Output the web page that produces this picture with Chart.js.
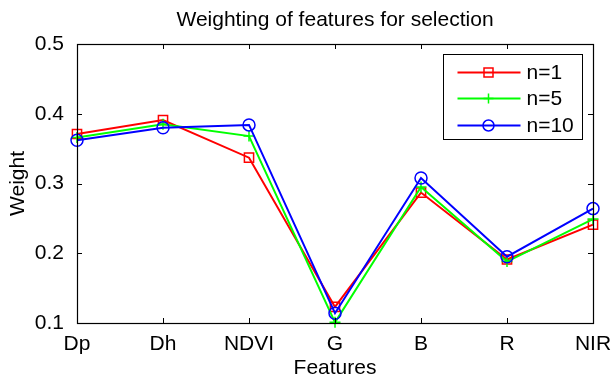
<!DOCTYPE html>
<html>
<head>
<meta charset="utf-8">
<script src="https://cdn.jsdelivr.net/npm/chart.js@4"></script>
<style>
  html, body { margin: 0; padding: 0; background: #fff; }
  #wrap { width: 612px; height: 378px; }
</style>
</head>
<body>
<div id="wrap"><canvas id="chart" width="612" height="378"></canvas></div>
<script>
let features = ['Dp', 'Dh', 'NDVI', 'G', 'B', 'R', 'NIR'];
let seriesNames = ['n=1', 'n=5', 'n=10'];
let weightN1 = [0.371, 0.391, 0.337, 0.123, 0.287, 0.191, 0.241];
let weightN5 = [0.366, 0.385, 0.368, 0.101, 0.295, 0.188, 0.249];
let weightN10 = [0.362, 0.380, 0.384, 0.114, 0.308, 0.195, 0.264];
let yTicks = [0.1, 0.2, 0.3, 0.4, 0.5];
let chartTitle = 'Weighting of features for selection';

let fontFamily = '"Liberation Sans", Arial, Helvetica, sans-serif';
let fontSize = 21;

// title over the axes, box round the plot, inward ticks, legend inside the axes
let matlabAxes = {
  id: 'matlabAxes',
  afterDraw(chart) {
    let ctx = chart.ctx;
    let area = chart.chartArea;
    let xs = chart.scales.x;
    let ys = chart.scales.y;
    let tick = 5;
    ctx.save();

    ctx.fillStyle = '#000';
    ctx.font = fontSize + 'px ' + fontFamily;
    ctx.textAlign = 'center';
    ctx.textBaseline = 'middle';
    ctx.fillText(chartTitle, (area.left + area.right) / 2, 20);

    ctx.strokeStyle = '#000';
    ctx.lineWidth = 1;
    ctx.beginPath();
    for (let i = 0; i < features.length; i++) {
      let px = Math.round(xs.getPixelForValue(i)) + 0.5;
      ctx.moveTo(px, area.bottom); ctx.lineTo(px, area.bottom - tick);
      ctx.moveTo(px, area.top); ctx.lineTo(px, area.top + tick);
    }
    yTicks.forEach(function(v) {
      let py = Math.round(ys.getPixelForValue(v)) + 0.5;
      ctx.moveTo(area.left, py); ctx.lineTo(area.left + tick, py);
      ctx.moveTo(area.right, py); ctx.lineTo(area.right - tick, py);
    });
    ctx.stroke();
    ctx.lineWidth = 1.2;
    ctx.strokeRect(Math.round(area.left) + 0.5, Math.round(area.top) + 0.5,
      Math.round(area.right - area.left), Math.round(area.bottom - area.top));

    // legend
    let bw = 139, bh = 85;
    let bx = Math.round(area.right - 11 - bw) + 0.5;
    let by = Math.round(area.top + 10) + 0.5;
    ctx.fillStyle = '#fff';
    ctx.fillRect(bx, by, bw, bh);
    ctx.lineWidth = 1;
    ctx.strokeRect(bx, by, bw, bh);
    let rows = [18, 44, 71];
    chart.data.datasets.forEach(function(ds, i) {
      let y = by + rows[i];
      ctx.strokeStyle = ds.borderColor;
      ctx.lineWidth = 2;
      ctx.beginPath();
      ctx.moveTo(bx + 14, y); ctx.lineTo(bx + 77, y);
      ctx.stroke();
      let mx = bx + 45;
      ctx.lineWidth = 1.5;
      ctx.beginPath();
      if (ds.pointStyle === 'rect') {
        ctx.rect(mx - 4.5, y - 4.5, 9, 9);
      } else if (ds.pointStyle === 'cross') {
        ctx.moveTo(mx - 5, y); ctx.lineTo(mx + 5, y);
        ctx.moveTo(mx, y - 5); ctx.lineTo(mx, y + 5);
      } else {
        ctx.arc(mx, y, 5.5, 0, Math.PI * 2);
      }
      ctx.stroke();
      ctx.fillStyle = '#000';
      ctx.font = fontSize + 'px ' + fontFamily;
      ctx.textAlign = 'left';
      ctx.textBaseline = 'middle';
      ctx.fillText(ds.label, bx + 83, y + 1);
    });
    ctx.restore();
  }
};

new Chart(document.getElementById('chart').getContext('2d'), {
  type: 'line',
  data: {
    labels: features,
    datasets: [
      { label: seriesNames[0], data: weightN1, borderColor: '#ff0000',
        pointStyle: 'rect', pointRadius: 6.5, order: 3 },
      { label: seriesNames[1], data: weightN5, borderColor: '#00ff00',
        pointStyle: 'cross', pointRadius: 5.5, order: 2 },
      { label: seriesNames[2], data: weightN10, borderColor: '#0000ff',
        pointStyle: 'circle', pointRadius: 6, order: 1 }
    ].map(function(ds) {
      ds.borderWidth = 2;
      ds.pointBorderWidth = 1.5;
      ds.tension = 0;
      ds.fill = false;
      ds.clip = false;
      ds.backgroundColor = 'rgba(0,0,0,0)';
      ds.pointBackgroundColor = 'rgba(0,0,0,0)';
      return ds;
    })
  },
  options: {
    responsive: false,
    animation: false,
    devicePixelRatio: 1,
    layout: { padding: { left: 0, right: 19, top: 44, bottom: 0 } },
    plugins: {
      legend: { display: false },
      tooltip: { enabled: false },
      title: { display: false }
    },
    scales: {
      x: {
        type: 'category',
        offset: false,
        grid: { display: false },
        border: { display: false },
        ticks: { color: '#000', padding: 1, maxRotation: 0, autoSkip: false,
          font: { family: fontFamily, size: fontSize } },
        title: { display: true, text: 'Features', color: '#000',
          font: { family: fontFamily, size: fontSize }, padding: { top: 0, bottom: -3 } },
        afterFit: function(scale) {
          scale.height = 55;
          scale.paddingLeft = 0;
          scale.paddingRight = 0;
        }
      },
      y: {
        min: 0.1,
        max: 0.5,
        grid: { display: false },
        border: { display: false },
        ticks: { color: '#000', padding: 5, stepSize: 0.1,
          font: { family: fontFamily, size: fontSize },
          callback: function(v) { return v.toFixed(1); } },
        title: { display: true, text: 'Weight', color: '#000',
          font: { family: fontFamily, size: fontSize }, padding: { top: 6, bottom: 0 } },
        afterFit: function(scale) {
          scale.width = 77;
          scale.paddingTop = 0;
          scale.paddingBottom = 0;
        }
      }
    }
  },
  plugins: [matlabAxes]
});
</script>
</body>
</html>
